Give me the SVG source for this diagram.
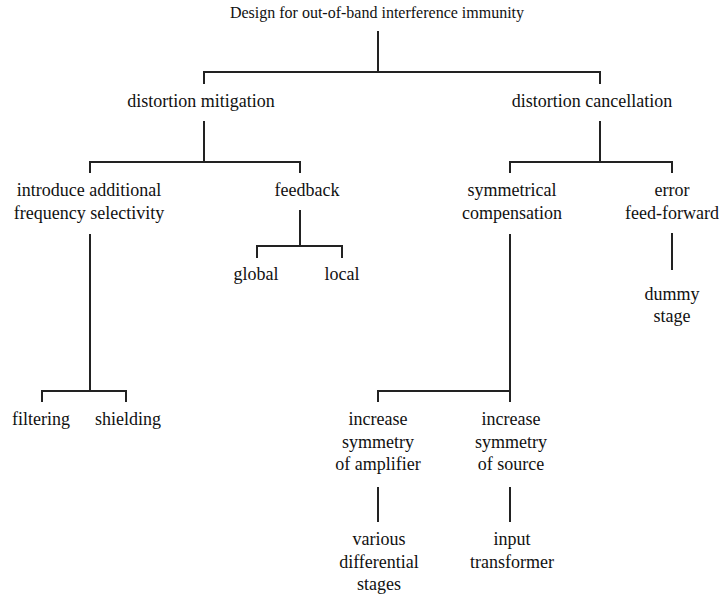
<svg xmlns="http://www.w3.org/2000/svg" width="719" height="598" viewBox="0 0 719 598">
<style>
text{font-family:"Liberation Serif","Times New Roman","DejaVu Serif",serif;font-size:18px;fill:#111;text-anchor:middle}
text.t{font-size:16px}
.c line,.c polyline{stroke:#222;stroke-width:2;fill:none}
</style>
<rect width="719" height="598" fill="#fff"/>
<g class="c" id="connectors">
<line x1="378" y1="31" x2="378" y2="72"/>
<polyline points="204,84 204,72 600,72 600,84"/>
<line x1="204" y1="121" x2="204" y2="162"/>
<polyline points="90,173 90,162 300,162 300,173"/>
<line x1="600" y1="121" x2="600" y2="162"/>
<polyline points="510,173 510,162 672,162 672,173"/>
<line x1="300" y1="210" x2="300" y2="246"/>
<polyline points="257,258 257,246 342,246 342,258"/>
<line x1="90" y1="234" x2="90" y2="391"/>
<polyline points="42,402 42,391 126,391 126,402"/>
<line x1="510" y1="234" x2="510" y2="391"/>
<polyline points="378,402 378,391 510,391 510,402"/>
<line x1="672" y1="233" x2="672" y2="270"/>
<line x1="378" y1="487" x2="378" y2="522"/>
<line x1="510" y1="487" x2="510" y2="522"/>
</g>
<g id="root"><text class="t" x="377" y="18">Design for out-of-band interference immunity</text></g>
<g id="mitigation"><text x="201" y="107">distortion mitigation</text></g>
<g id="cancellation"><text x="592" y="107">distortion cancellation</text></g>
<g id="selectivity"><text x="89" y="196">introduce additional</text><text x="89" y="219">frequency selectivity</text></g>
<g id="feedback"><text x="307" y="196">feedback</text></g>
<g id="symmetrical"><text x="512" y="196">symmetrical</text><text x="512" y="219">compensation</text></g>
<g id="errorff"><text x="672" y="196">error</text><text x="672" y="219">feed-forward</text></g>
<g id="global"><text x="256" y="280">global</text></g>
<g id="local"><text x="342" y="280">local</text></g>
<g id="filtering"><text x="41" y="425">filtering</text></g>
<g id="shielding"><text x="128" y="425">shielding</text></g>
<g id="amp"><text x="378" y="425">increase</text><text x="378" y="448">symmetry</text><text x="378" y="470">of amplifier</text></g>
<g id="source"><text x="511" y="425">increase</text><text x="511" y="448">symmetry</text><text x="511" y="470">of source</text></g>
<g id="dummy"><text x="672" y="300">dummy</text><text x="672" y="322">stage</text></g>
<g id="various"><text x="379" y="545">various</text><text x="379" y="568">differential</text><text x="379" y="590">stages</text></g>
<g id="input"><text x="512" y="545">input</text><text x="512" y="568">transformer</text></g>
</svg>
